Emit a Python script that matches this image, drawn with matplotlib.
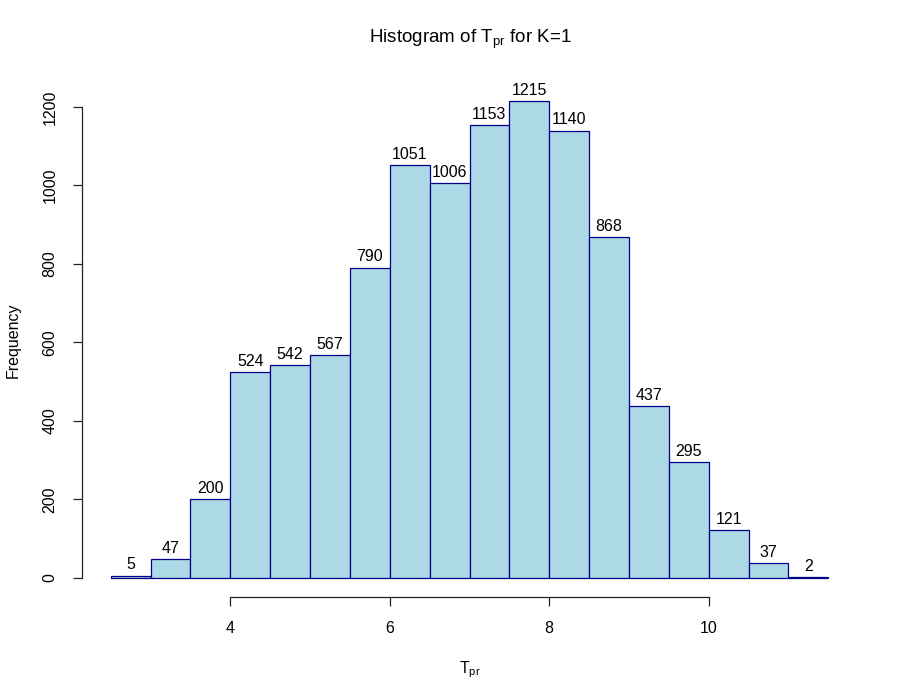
import numpy as np
import matplotlib
matplotlib.use("Agg")
import matplotlib.pyplot as plt

plt.rcParams['font.family'] = ['Liberation Sans', 'DejaVu Sans']
plt.rcParams['mathtext.fontset'] = 'custom'
plt.rcParams['mathtext.rm'] = 'Liberation Sans'
plt.rcParams['mathtext.it'] = 'Liberation Sans'

# histogram bins (break points) and counts
breaks = np.arange(2.5, 11.51, 0.5)
counts = [5, 47, 200, 524, 542, 567, 790, 1051, 1006, 1153,
          1215, 1140, 868, 437, 295, 121, 37, 2]
xticks = [4, 6, 8, 10]
yticks = [0, 200, 400, 600, 800, 1000, 1200]

fig = plt.figure(figsize=(9, 7), dpi=100)
ax = fig.add_axes([82/900, 1 - 597/700, (857 - 82)/900, (597 - 82)/700])

widths = np.diff(breaks)
ax.bar(breaks[:-1], counts, width=widths, align='edge',
       color='#ADD8E6', edgecolor='#00008B', linewidth=0.9)

# count labels on top of bars
for left, w, c in zip(breaks[:-1], widths, counts):
    ax.annotate(str(c), (left + w / 2, c), xytext=(0, 2.5),
                textcoords='offset points', ha='center', va='bottom',
                fontsize=11.5)

# R-style padding of 4%
xr = breaks[-1] - breaks[0]
ax.set_xlim(breaks[0] - 0.04 * xr, breaks[-1] + 0.04 * xr)
ymax = max(counts)
ax.set_ylim(-0.04 * ymax, ymax * 1.04)

for s in ['top', 'right']:
    ax.spines[s].set_visible(False)
ax.spines['left'].set_bounds(yticks[0], yticks[-1])
ax.spines['bottom'].set_bounds(xticks[0], xticks[-1])
for s in ['left', 'bottom']:
    ax.spines[s].set_linewidth(0.9)
    ax.spines[s].set_color('#222222')

ax.set_xticks(xticks)
ax.set_yticks(yticks)
ax.set_yticklabels([str(v) for v in yticks], rotation=90, va='center')
ax.tick_params(axis='both', length=6.5, width=0.9, color='#222222',
               labelsize=11.5, pad=11)

ax.set_xlabel(r'$\mathregular{T_{pr}}$', fontsize=11.5)
ax.xaxis.set_label_coords(470/900, 1 - 659/700, transform=fig.transFigure)
ax.set_ylabel('Frequency', fontsize=11.5)
ax.yaxis.set_label_coords(21/900, 1 - 340/700, transform=fig.transFigure)

fig.text(470/900, 1 - 39/700, r'Histogram of $\mathregular{T_{pr}}$ for K=1',
         ha='center', va='center', fontsize=13.5)

fig.savefig('out.png', dpi=100)
